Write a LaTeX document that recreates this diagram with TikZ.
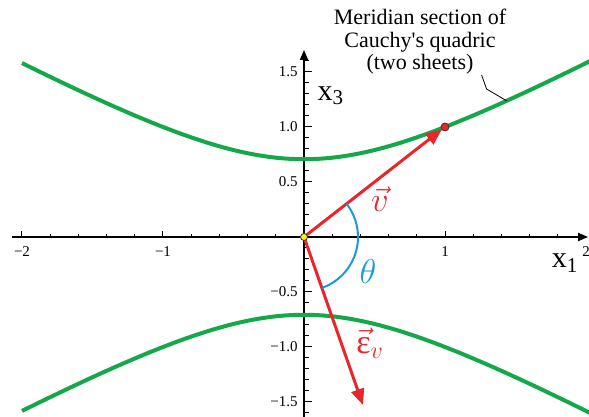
\documentclass[tikz,border=0pt]{standalone}
\usepackage{fontspec}
\setmainfont{Liberation Serif}
\usepackage{xcolor}
\definecolor{sheetGreen}{HTML}{14A84B}
\definecolor{vecRed}    {HTML}{E8262B}
\definecolor{angleBlue} {HTML}{1C9AD6}
\definecolor{dotYellow} {HTML}{FFF200}
\usetikzlibrary{arrows.meta}

\begin{document}
\begin{tikzpicture}[
    x=70.5pt, y=55pt,
    every node/.style={font=\fontsize{7.5}{9}\selectfont},
    axis/.style={line width=0.9pt, -{Triangle[length=5pt, width=4pt]}},
    tick/.style={line width=0.5pt},
    sheet/.style={sheetGreen, line width=2pt},
    vec/.style={vecRed, line width=1.5pt, -{Triangle[length=8pt, width=6.5pt]}},
    dot/.style={circle, draw=black!80, line width=0.4pt, inner sep=0pt},
    lab/.style={font=\fontsize{15}{15}\selectfont}
]
\useasboundingbox (-152pt,-90pt) rectangle (142.5pt,118.5pt);

% Axes with ticks
\coordinate (xmin) at (-2.07,0);
\coordinate (xmax) at (2.015,0);
\coordinate (ymin) at (0,-1.65);
\coordinate (ymax) at (0,1.70);
\draw[axis] (xmin) -- (xmax);
\draw[axis] (ymin) -- (ymax);
\foreach \i in {-10,...,9} {
    \draw[tick] (\i/5,0) -- ++(0,1.7pt);
}
\foreach \x in {-2,-1,1} {
    \draw[tick] (\x,0) -- ++(0,3pt);
}
\foreach \i in {-16,...,16} {
    \draw[tick] (0,\i/10) -- ++(2.5pt,0);
}
\foreach \y in {-1.5,-1,-0.5,0.5,1,1.5} {
    \draw[tick] (0,\y) -- ++(4pt,0);
}
\foreach \x/\t [count=\k] in {-2/−2, -1/−1, 1/1, 2/2} {
    \node[below=4.5pt, inner sep=0pt] (xtick\k) at (\x,0) {\t};
}
\foreach \y/\t [count=\k] in {-1.5/−1.5, -1/−1.0, -0.5/−0.5, 0.5/0.5, 1/1.0, 1.5/1.5} {
    \node[left=3pt, inner sep=0pt] (ytick\k) at (0,\y) {\t};
}
\node[lab] (xonelab) at (130.5pt,-13pt) {x\textsubscript{1}};
\node[lab] (xthreelab) at (13.5pt,70.5pt) {x\textsubscript{3}};

% The two sheets
\draw[sheet] plot[domain=-2:2.03, samples=81, smooth] (\x,{sqrt(0.5+0.5*\x*\x)});
\draw[sheet] plot[domain=-2:2.03, samples=81, smooth] (\x,{-sqrt(0.5+0.5*\x*\x)});

% Caption and leader line
\node[font=\fontsize{11}{11.25}\selectfont, align=center, anchor=north, inner sep=0pt]
    (note) at (58pt,114pt) {Meridian section of\\Cauchy\textquotesingle s quadric\\(two sheets)};
\coordinate (leadA) at (88.8pt,81pt);
\coordinate (leadB) at (91.3pt,74pt);
\coordinate (leadC) at (1.437,{sqrt(0.5+0.5*1.437*1.437)});
\draw[line width=0.4pt] (leadA) -- (leadB) -- (leadC);

% Vectors and angle
\coordinate (O) at (0,0);
\coordinate (P) at (1,1);
\coordinate (E) at (0.418,-1.527);
\draw[vec, shorten >=2pt] (O) -- (P);
\draw[vec] (O) -- (E);
\draw[angleBlue, line width=1pt] (O) ++(37.9:27pt) arc[start angle=37.9, end angle=-70.6, radius=27pt];
\node[vecRed, font=\fontsize{16}{16}\selectfont] (vlab) at (38pt,19pt) {$\vec{v}$};
\node[angleBlue, font=\fontsize{19}{19}\selectfont] (thetalab) at (32pt,-17.5pt) {$\theta$};
\node[vecRed, font=\fontsize{17}{17}\selectfont] (epslab) at (33pt,-53pt) {$\vec{\mbox{ε}}_{v}$};

% Points
\node[dot, fill=vecRed, minimum size=4pt] (Pdot) at (P) {};
\node[dot, fill=dotYellow, minimum size=3.5pt] (Odot) at (O) {};
\end{tikzpicture}
\end{document}
